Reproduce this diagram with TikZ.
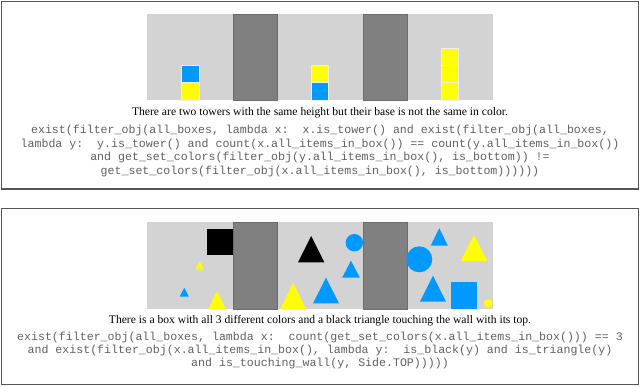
\documentclass[tikz,border=0pt]{standalone}
\usepackage{fontspec}
\setmainfont{Liberation Serif}
\newfontfamily\codefont{Liberation Mono}
\definecolor{boxgray}{HTML}{D3D3D3}
\definecolor{wallgray}{HTML}{808080}
\definecolor{shapeblue}{HTML}{0099FF}
\definecolor{shapeyellow}{HTML}{FFFF00}
\definecolor{framegray}{HTML}{555555}
\definecolor{codegray}{HTML}{606060}
% triangle: colour, centre x, base y, width, height
\newcommand\mytri[5]{\fill[#1] ({#2-#4/2},#3) -- (#2,{#3-#5}) -- ({#2+#4/2},#3) -- cycle;}
\begin{document}
\begin{tikzpicture}[x=1pt,y=-1pt,
  frame/.style={draw=framegray,line width=1.3pt},
  boxarea/.style={fill=boxgray},
  wall/.style={fill=wallgray,draw=wallgray!85!black,line width=0.4pt},
  cube/.style={draw=white!60!boxgray,line width=0.5pt},
  caption/.style={inner sep=0pt,font=\fontsize{11.6}{13}\selectfont},
  code/.style={inner sep=0pt,align=center,text=codegray,font=\codefont\fontsize{11.6}{13.4}\selectfont}]
\useasboundingbox (0,0) rectangle (640,386);
% ---------- top panel ----------
\draw[frame] (1.5,1.5) rectangle (638.3,189);
\fill[boxarea] (147,14) rectangle (493,100);
\filldraw[wall] (233.3,14) rectangle (276.7,100);
\filldraw[wall] (362.7,14) rectangle (406.7,100);
% tower 1
\filldraw[cube,fill=shapeyellow] (181.3,82.6) rectangle (199,100);
\filldraw[cube,fill=shapeblue] (181.3,65.2) rectangle (199,82.6);
% tower 2
\filldraw[cube,fill=shapeblue] (311,82.6) rectangle (328.7,100);
\filldraw[cube,fill=shapeyellow] (311,65.2) rectangle (328.7,82.6);
% tower 3
\filldraw[cube,fill=shapeyellow] (441,82.6) rectangle (458.5,100);
\filldraw[cube,fill=shapeyellow] (441,65.2) rectangle (458.5,82.6);
\filldraw[cube,fill=shapeyellow] (441,47.8) rectangle (458.5,65.2);
\node[caption] (cap1) at (320,113) {There are two towers with the same height but their base is not the same in color.};
\node[code] (code1) at (320,151) {exist(filter\_obj(all\_boxes, lambda x:~~x.is\_tower() and exist(filter\_obj(all\_boxes,\\
lambda y:~~y.is\_tower() and count(x.all\_items\_in\_box()) == count(y.all\_items\_in\_box())\\
and get\_set\_colors(filter\_obj(y.all\_items\_in\_box(), is\_bottom)) !=\\
get\_set\_colors(filter\_obj(x.all\_items\_in\_box(), is\_bottom))))))};
% ---------- bottom panel ----------
\draw[frame] (1.5,208.5) rectangle (638.3,384.6);
\fill[boxarea] (147,222.3) rectangle (493,309);
\filldraw[wall] (233.3,222.3) rectangle (276.7,309);
\filldraw[wall] (362.7,222.3) rectangle (406.7,309);
% box 1
\fill[black] (207.3,229) rectangle (233.3,255);
\mytri{shapeyellow}{199.7}{269.7}{8.8}{8.8}
\mytri{shapeblue}{184.3}{296.7}{9.3}{9}
\mytri{shapeyellow}{217}{309}{17.4}{18}
% box 2
\mytri{black}{311.2}{262.3}{26.3}{26.3}
\fill[shapeblue] (354.3,242.7) circle[radius=8.7];
\mytri{shapeblue}{351}{277.7}{17.7}{17}
\mytri{shapeyellow}{293.2}{309}{25.7}{26.3}
\mytri{shapeblue}{326}{303.3}{26}{25.6}
% box 3
\mytri{shapeblue}{439.3}{245.7}{17.3}{17.4}
\mytri{shapeyellow}{474}{261}{26.6}{26}
\fill[shapeblue] (419.3,259.3) circle[radius=13];
\mytri{shapeblue}{433}{301.7}{26}{26}
\fill[shapeblue] (451,282.3) rectangle (477.3,309);
\fill[shapeyellow] (488.3,303.3) circle[radius=4.3];
\node[caption] (cap2) at (320,320.5) {There is a box with all 3 different colors and a black triangle touching the wall with its top.};
\node[code] (code2) at (320,350.5) {exist(filter\_obj(all\_boxes, lambda x:~~count(get\_set\_colors(x.all\_items\_in\_box())) == 3\\
and exist(filter\_obj(x.all\_items\_in\_box(), lambda y:~~is\_black(y) and is\_triangle(y)\\
and is\_touching\_wall(y, Side.TOP)))))};
\end{tikzpicture}
\end{document}
